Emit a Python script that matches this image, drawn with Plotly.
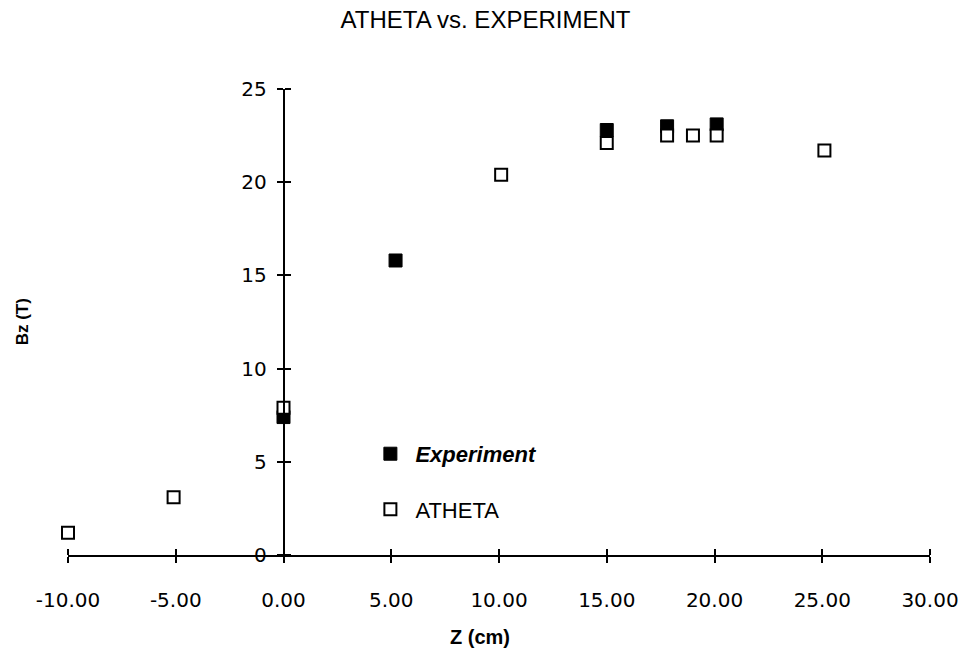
import plotly.graph_objects as go

# Axial field Bz along the axis: measured values vs. ATHETA calculation
exp_z = [0.0, 5.2, 15.0, 17.8, 20.1]
exp_bz = [7.4, 15.8, 22.8, 23.0, 23.1]

atheta_z = [-10.0, -5.1, 0.0, 10.1, 15.0, 17.8, 19.0, 20.1, 25.1]
atheta_bz = [1.2, 3.1, 7.9, 20.4, 22.1, 22.5, 22.5, 22.5, 21.7]

x_ticks = [-10, -5, 0, 5, 10, 15, 20, 25, 30]
x_ticktext = [f"{v:.2f}" for v in x_ticks]
y_ticks = [0, 5, 10, 15, 20, 25]

TICK_FONT = dict(family="DejaVu Sans, Liberation Sans, Arial", size=20, color="black")

fig = go.Figure()

# filled squares on the primary axes
fig.add_trace(go.Scatter(
    x=exp_z, y=exp_bz, mode="markers",
    name="<b><i>Experiment</i></b>", legendgroup="exp",
    marker=dict(symbol="square", size=13, color="black",
                line=dict(color="black", width=1)),
    cliponaxis=False,
))
# open squares on the twin axes (identical ranges; these carry the other tick halves)
fig.add_trace(go.Scatter(
    x=atheta_z, y=atheta_bz, mode="markers",
    name="ATHETA", legendgroup="ath", xaxis="x2", yaxis="y2",
    marker=dict(symbol="square", size=12, color="white",
                line=dict(color="black", width=2)),
    cliponaxis=False,
))

axis_common = dict(showgrid=False, zeroline=False, linecolor="black",
                   linewidth=1.5, tickcolor="black", tickwidth=1.5, ticklen=6)

fig.update_layout(
    width=971, height=655,
    margin=dict(l=68, r=34, t=89, b=100),
    paper_bgcolor="white", plot_bgcolor="white",
    title=dict(text="ATHETA vs. EXPERIMENT", x=0.5, xref="container",
               xanchor="center", y=1 - 19.5 / 655, yref="container",
               yanchor="middle",
               font=dict(family="Liberation Sans, Arial", size=24, color="black")),
    xaxis=dict(range=[-10, 30], domain=[0, 1], anchor="y",
               showline=True, ticks="outside",
               tickvals=x_ticks, ticktext=x_ticktext,
               tickfont=TICK_FONT, ticklabelstandoff=20, **axis_common),
    # twin x axis sitting on the same baseline, ticks pointing upward
    xaxis2=dict(range=[-10, 30], domain=[0, 1], overlaying="x",
                anchor="free", position=0, side="top",
                showline=False, ticks="outside", tickvals=x_ticks,
                showticklabels=False, **axis_common),
    yaxis=dict(range=[0, 25], anchor="free", position=0.25,
               showline=True, ticks="outside", tickvals=y_ticks,
               tickfont=TICK_FONT, ticklabelstandoff=6, **axis_common),
    # twin y axis on the same vertical line, ticks pointing right
    yaxis2=dict(range=[0, 25], overlaying="y", anchor="free", position=0.25,
                side="right", showline=False, ticks="outside", tickvals=y_ticks,
                showticklabels=False, **axis_common),
    showlegend=True,
    legend=dict(x=0.345, y=0.262, xanchor="left", yanchor="top",
                bgcolor="rgba(0,0,0,0)", borderwidth=0,
                tracegroupgap=24, itemwidth=40,
                font=dict(family="Liberation Sans, Arial", size=22, color="black")),
    annotations=[
        dict(text="<b>Z (cm)</b>", xref="paper", yref="paper",
             x=(483 - 68) / 869, y=(555 - 637) / 466,
             xanchor="center", yanchor="middle", showarrow=False,
             font=dict(family="Liberation Sans Narrow, Liberation Sans, Arial",
                       size=20, color="black")),
        dict(text="<b>Bz (T)</b>", xref="paper", yref="paper",
             x=(22 - 68) / 869, y=(555 - 322) / 466, textangle=-90,
             xanchor="center", yanchor="middle", showarrow=False,
             font=dict(family="Liberation Sans, Arial", size=17, color="black")),
    ],
)

fig.write_html("out.html")
